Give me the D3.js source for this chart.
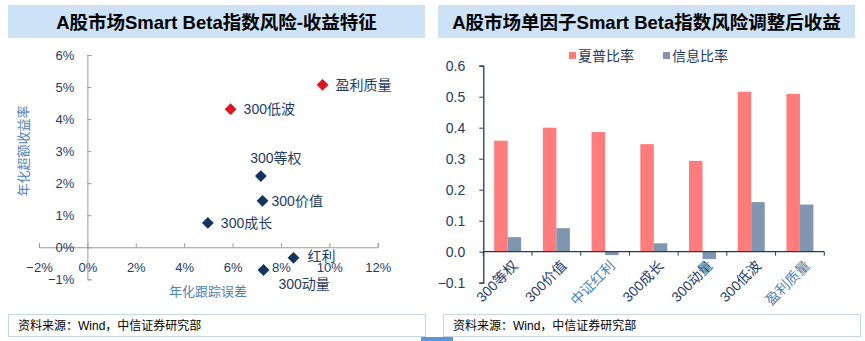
<!DOCTYPE html>
<html><head><meta charset="utf-8">
<script src="https://cdn.jsdelivr.net/npm/d3@7"></script>
<style>
html,body{margin:0;padding:0;background:#fff;}
svg{display:block;font-family:"Liberation Sans",Arial,"Noto Sans CJK SC",sans-serif;}
</style></head>
<body><svg id="c" width="865" height="341"></svg>
<script>
// ---- Left scatter data ----
const scatterNames = ["盈利质量","300低波","300等权","300价值","300成长","红利","300动量"];
const trackingError = [0.0972,0.0592,0.0717,0.0724,0.0498,0.0852,0.0728];
const excessReturn = [0.0507,0.0431,0.0222,0.0145,0.0076,-0.0033,-0.0071];
const scatterHighlight = [true,true,false,false,false,false,false];
const scatterXTicks = [-0.02,0,0.02,0.04,0.06,0.08,0.10,0.12];
const scatterYTicks = [-0.01,0,0.01,0.02,0.03,0.04,0.05,0.06];

// ---- Right bar data ----
const barCategories = ["300等权","300价值","中证红利","300成长","300动量","300低波","盈利质量"];
const barSeries = ["夏普比率","信息比率"];
const sharpe = [0.358,0.400,0.386,0.347,0.293,0.516,0.509];
const infoRatio = [0.047,0.076,-0.011,0.027,-0.024,0.160,0.152];
const barYTicks = [-0.1,0.0,0.1,0.2,0.3,0.4,0.5,0.6];

const svg = d3.select("#c");
const navy = "#1f3b63";
const latin = "\"Liberation Sans\",Arial,\"Noto Sans CJK SC\",sans-serif";

// ---------- Title bars ----------
function titleBar(x0,x1,text){
  svg.append("rect").attr("x",x0).attr("y",5).attr("width",x1-x0).attr("height",33).attr("fill","#cde2f6");
  svg.append("text").attr("x",(x0+x1)/2).attr("y",28.5).attr("text-anchor","middle")
    .attr("font-size",18.5).attr("font-weight","bold").attr("fill","#000").text(text);
}
titleBar(8,425,"A股市场Smart Beta指数风险-收益特征");
titleBar(438,855,"A股市场单因子Smart Beta指数风险调整后收益");

// ---------- Footers ----------
function footer(x0,x1,tx,text){
  svg.append("rect").attr("x",x0+0.5).attr("y",314.5).attr("width",x1-x0).attr("height",22)
    .attr("fill","#fff").attr("stroke","#c6d6e6");
  svg.append("text").attr("x",tx).attr("y",330).attr("font-size",12).attr("fill","#000").text(text);
}
footer(8,425,18,"资料来源：Wind，中信证券研究部");
footer(443,860,453,"资料来源：Wind，中信证券研究部");
svg.append("rect").attr("x",421).attr("y",337).attr("width",32).attr("height",4).attr("fill","#5a96dc");

// ---------- Left scatter ----------
const sx = d3.scaleLinear().domain([-0.02,0.12]).range([39,377.7]);
const sy = d3.scaleLinear().domain([-0.01,0.06]).range([279.3,55]);
const pct = d3.format(".0%");

const gx = svg.append("g").attr("transform",`translate(0,${sy(0)})`)
  .call(d3.axisBottom(sx).tickValues(scatterXTicks).tickSize(-4).tickPadding(8).tickFormat(pct));
gx.selectAll("text").attr("dy","0.71em").attr("transform","translate(0,8)");
const gy = svg.append("g").attr("transform",`translate(${sx(0)},0)`)
  .call(d3.axisLeft(sy).tickValues(scatterYTicks).tickSize(-4).tickPadding(13).tickFormat(pct));
[gx,gy].forEach(g=>{
  g.select(".domain").attr("stroke","#9a9a9a");
  g.selectAll(".tick line").attr("stroke","#9a9a9a");
  g.selectAll("text").attr("font-size",13).attr("fill",navy).attr("font-family",latin);
});

svg.append("text").attr("transform","translate(28,151) rotate(-90)").attr("text-anchor","middle")
  .attr("font-size",13).attr("fill","#4f7fb3").text("年化超额收益率");
svg.append("text").attr("x",208).attr("y",296).attr("text-anchor","middle")
  .attr("font-size",13).attr("fill","#4f7fb3").text("年化跟踪误差");

const pts = scatterNames.map((n,i)=>({n,x:trackingError[i],y:excessReturn[i],h:scatterHighlight[i]}));
svg.append("g").selectAll("path").data(pts).join("path")
  .attr("d",d3.symbol().type(d3.symbolSquare).size(70))
  .attr("transform",d=>`translate(${sx(d.x)},${sy(d.y)}) rotate(45)`)
  .attr("fill",d=>d.h?"#e0141e":"#15345f");

// label placement offsets (relative to point)
const labelPos = {
  "盈利质量":{dx:13,dy:5,a:"start"},
  "300低波":{dx:13,dy:5,a:"start"},
  "300等权":{dx:15,dy:-13,a:"middle"},
  "300价值":{dx:9,dy:5,a:"start"},
  "300成长":{dx:13,dy:5,a:"start"},
  "红利":{dx:14,dy:3,a:"start"},
  "300动量":{dx:15,dy:19,a:"start"}
};
svg.append("g").selectAll("text").data(pts).join("text")
  .attr("x",d=>sx(d.x)+labelPos[d.n].dx)
  .attr("y",d=>sy(d.y)+labelPos[d.n].dy)
  .attr("text-anchor",d=>labelPos[d.n].a)
  .attr("font-size",14).attr("fill",navy).text(d=>d.n);

// ---------- Right bars ----------
const bx = d3.scaleBand().domain(barCategories).range([483.3,824.3]).padding(0);
const bx1 = d3.scaleBand().domain(barSeries).range([0,27]);
const by = d3.scaleLinear().domain([-0.1,0.6]).range([282.7,65.7]);
const colors = {"夏普比率":"#ff7c7c","信息比率":"#8096b0"};
const seriesVals = {"夏普比率":sharpe,"信息比率":infoRatio};

const groupOff = (bx.bandwidth()-27)/2;
barSeries.forEach(s=>{
  svg.append("g").selectAll("rect").data(barCategories).join("rect")
    .attr("x",c=>bx(c)+groupOff+bx1(s))
    .attr("width",bx1.bandwidth())
    .attr("y",(c,i)=>by(Math.max(0,seriesVals[s][i])))
    .attr("height",(c,i)=>Math.abs(by(seriesVals[s][i])-by(0)))
    .attr("fill",colors[s]);
});

const gby = svg.append("g").attr("transform",`translate(${bx.range()[0]},0)`)
  .call(d3.axisLeft(by).tickValues(barYTicks).tickSize(4).tickPadding(14).tickFormat(d3.format(".1f")));
gby.selectAll("text").attr("font-size",14).attr("fill",navy).attr("font-family",latin);
gby.select(".domain").attr("stroke",navy).attr("stroke-width",1.3);
gby.selectAll(".tick line").attr("stroke",navy);

// x axis line with boundary ticks
const gbx = svg.append("g").attr("transform",`translate(0,${by(0)})`);
gbx.append("line").attr("x1",bx.range()[0]).attr("x2",bx.range()[1]).attr("stroke",navy).attr("stroke-width",1.3);
const bounds = barCategories.map(c=>bx(c)).concat([bx.range()[1]]);
gbx.selectAll("line.t").data(bounds).join("line").attr("class","t")
  .attr("x1",d=>d).attr("x2",d=>d).attr("y1",0).attr("y2",4).attr("stroke",navy);
gbx.selectAll("text").data(barCategories).join("text")
  .attr("transform",c=>`translate(${bx(c)+bx.bandwidth()/2+4},${8}) rotate(-45)`)
  .attr("text-anchor","end").attr("dy","0.7em")
  .attr("font-size",14).attr("fill",(c)=> (c==="中证红利"||c==="盈利质量")?"#4f7fb3":navy).text(c=>c);

// legend
const lg = svg.append("g");
[["夏普比率",569],["信息比率",663]].forEach(([s,x])=>{
  lg.append("rect").attr("x",x).attr("y",52).attr("width",7).attr("height",7).attr("fill",colors[s]);
  lg.append("text").attr("x",x+9).attr("y",61).attr("font-size",14).attr("fill",navy).text(s);
});
</script></body></html>
